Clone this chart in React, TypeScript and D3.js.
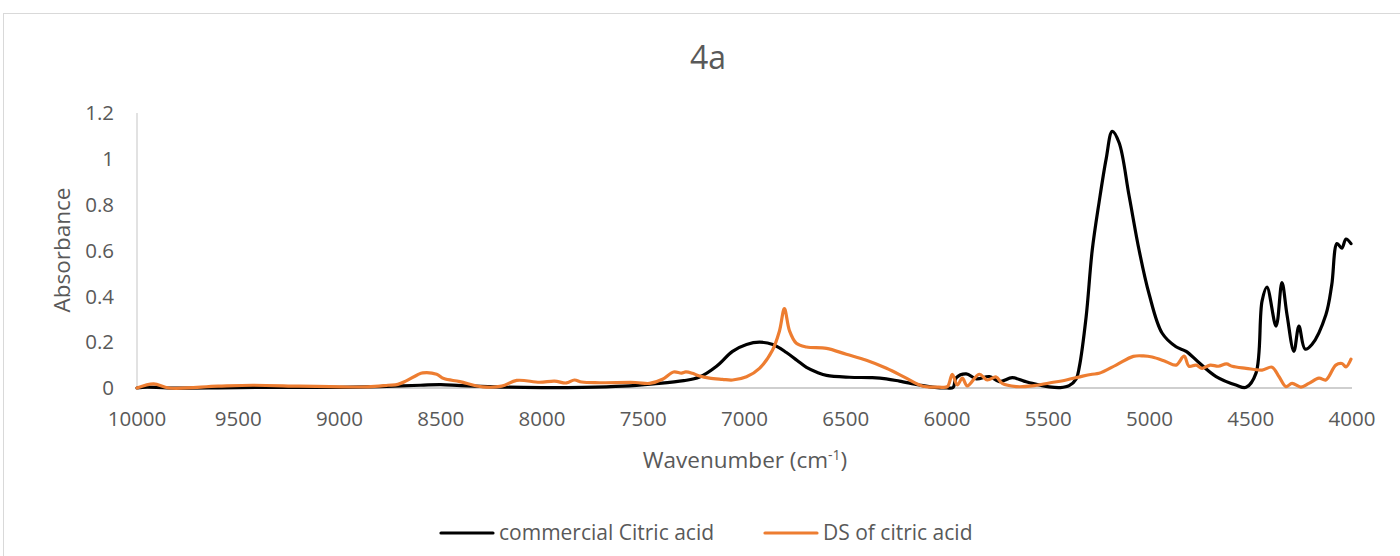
import React from "react";
import * as d3 from "d3";

// Wavenumber (cm-1) / absorbance pairs for each spectrum
const commercialWavenumber = [
  10000, 9950, 9850, 9500, 9000, 8800, 8600, 8500, 8400, 8200, 8000, 7800, 7600, 7450, 7300,
  7222, 7138, 7059, 6990, 6926, 6860, 6793, 6740, 6694, 6640, 6595, 6482, 6369, 6300, 6235,
  6137, 6073, 6000, 5970, 5954, 5905, 5855, 5791, 5742, 5678, 5620, 5579, 5495, 5440, 5397,
  5362, 5347, 5313, 5283, 5249, 5214, 5184, 5150, 5101, 5051, 5002, 4938, 4869, 4819, 4755,
  4671, 4573, 4523, 4474, 4444, 4420, 4375, 4346, 4321, 4287, 4262, 4232, 4198, 4129, 4100,
  4074, 4050, 4030, 4005,
];
const commercialAbsorbance = [
  0, 0.004, 0, 0.002, 0.003, 0.006, 0.012, 0.015, 0.01, 0.004, 0.002, 0.003, 0.008, 0.018, 0.032,
  0.048, 0.095, 0.16, 0.19, 0.2, 0.19, 0.155, 0.12, 0.09, 0.068, 0.055, 0.047, 0.045, 0.04, 0.03,
  0.013, 0.004, 0, 0.002, 0.045, 0.062, 0.04, 0.05, 0.028, 0.045, 0.03, 0.02, 0.005, 0.002, 0.01,
  0.04, 0.09, 0.31, 0.6, 0.81, 1.0, 1.12, 1.07, 0.84, 0.6, 0.41, 0.24, 0.18, 0.16, 0.11,
  0.05, 0.013, 0.003, 0.065, 0.38, 0.44, 0.27, 0.46, 0.32, 0.16, 0.27, 0.17, 0.19, 0.32, 0.45,
  0.63, 0.61, 0.65, 0.63,
];

const dsWavenumber = [
  10000, 9918, 9842, 9600, 9428, 9200, 9048, 8860, 8760, 8712, 8673, 8614, 8589, 8520, 8485,
  8406, 8293, 8199, 8125, 8012, 7938, 7880, 7840, 7804, 7716, 7538, 7469, 7405, 7350, 7311,
  7290, 7257, 7222, 7173, 7109, 7059, 6990, 6926, 6862, 6827, 6803, 6778, 6744, 6694, 6595,
  6497, 6398, 6299, 6201, 6122, 6040, 5998, 5974, 5949, 5924, 5900, 5841, 5801, 5757, 5727,
  5658, 5579, 5495, 5411, 5330, 5283, 5249, 5165, 5080, 5030, 4987, 4918, 4869, 4829, 4805,
  4770, 4740, 4700, 4660, 4620, 4592, 4523, 4444, 4395, 4360, 4326, 4296, 4252, 4213, 4163, 4129,
  4080, 4050, 4030, 4005,
];
const dsAbsorbance = [
  0, 0.018, 0, 0.008, 0.012, 0.008, 0.006, 0.005, 0.012, 0.016, 0.03, 0.058, 0.066, 0.06, 0.041,
  0.028, 0.005, 0.008, 0.033, 0.025, 0.03, 0.022, 0.035, 0.026, 0.023, 0.024, 0.02, 0.038, 0.07, 0.065,
  0.07, 0.064, 0.052, 0.043, 0.038, 0.035, 0.049, 0.086, 0.165, 0.25, 0.346, 0.25, 0.195, 0.179, 0.173,
  0.147, 0.121, 0.086, 0.043, 0.009, 0.004, 0.006, 0.06, 0.013, 0.043, 0.009, 0.06, 0.035, 0.048, 0.02,
  0.006, 0.009, 0.022, 0.035, 0.052, 0.06, 0.064, 0.1, 0.138, 0.14, 0.135, 0.115, 0.1, 0.139, 0.095,
  0.1, 0.086, 0.1, 0.095, 0.105, 0.095, 0.086, 0.078, 0.091, 0.049, 0.006, 0.02, 0.004, 0.02, 0.043, 0.035,
  0.1, 0.107, 0.092, 0.126,
];

const xTicks = [10000, 9500, 9000, 8500, 8000, 7500, 7000, 6500, 6000, 5500, 5000, 4500, 4000];
const yTicks = [0, 0.2, 0.4, 0.6, 0.8, 1, 1.2];

const seriesNames = ["commercial Citric acid", "DS of citric acid"];
const seriesColors = ["#000000", "#ED7D31"];

const W = 1400;
const H = 556;
const FONT = "'Open Sans', 'Liberation Sans', sans-serif";
const TEXT = "#595959";

export default function App() {
  const x = d3.scaleLinear().domain([10000, 4000]).range([137, 1352]);
  const y = d3.scaleLinear().domain([0, 1.2]).range([388, 113]);

  const line = d3
    .line<[number, number]>()
    .x((d) => x(d[0]))
    .y((d) => y(d[1]))
    .curve(d3.curveCatmullRom.alpha(0.5));

  const series = [
    d3.zip(commercialWavenumber, commercialAbsorbance) as [number, number][],
    d3.zip(dsWavenumber, dsAbsorbance) as [number, number][],
  ];

  const legendItems = [
    { lineX: 441, textX: 499 },
    { lineX: 765, textX: 823 },
  ];

  return (
    <div style={{ position: "absolute", left: 0, top: 0 }}>
      <svg width={W} height={H} style={{ display: "block", background: "#fff" }}>
        <rect x={3.5} y={13.5} width={W} height={H} fill="#fff" stroke="#D9D9D9" strokeWidth={1} />

        <text x={708} y={69} textAnchor="middle" fontFamily={FONT} fontSize={32} fill={TEXT}>
          4a
        </text>

        {/* axes */}
        <line x1={x(10000)} x2={x(10000)} y1={y(1.2)} y2={y(0)} stroke="#D9D9D9" strokeWidth={1.5} />
        <line x1={x(10000)} x2={x(4000)} y1={y(0)} y2={y(0)} stroke="#BFBFBF" strokeWidth={1.5} />

        {yTicks.map((t) => (
          <text
            key={t}
            x={114}
            y={y(t)}
            dy="0.35em"
            textAnchor="end"
            fontFamily={FONT}
            fontSize={20.5}
            fill={TEXT}
          >
            {d3.format("~g")(t)}
          </text>
        ))}

        {xTicks.map((t) => (
          <text
            key={t}
            x={x(t)}
            y={426}
            textAnchor="middle"
            fontFamily={FONT}
            fontSize={20.5}
            fill={TEXT}
          >
            {t}
          </text>
        ))}

        <text
          transform={`translate(70, 250) rotate(-90)`}
          textAnchor="middle"
          fontFamily={FONT}
          fontSize={22.5}
          fill={TEXT}
        >
          Absorbance
        </text>

        <text x={745} y={468} textAnchor="middle" fontFamily={FONT} fontSize={22.5} fill={TEXT}>
          Wavenumber (cm
          <tspan fontSize={14} dy={-8}>-1</tspan>
          <tspan dy={8}>)</tspan>
        </text>

        {series.map((pts, i) => (
          <path
            key={i}
            d={line(pts) ?? ""}
            fill="none"
            stroke={seriesColors[i]}
            strokeWidth={3.2}
            strokeLinejoin="round"
            strokeLinecap="round"
          />
        ))}

        {legendItems.map((it, i) => (
          <g key={i}>
            <line
              x1={it.lineX}
              x2={it.lineX + 52}
              y1={533}
              y2={533}
              stroke={seriesColors[i]}
              strokeWidth={3.2}
              strokeLinecap="round"
            />
            <text x={it.textX} y={533} dy="0.35em" fontFamily={FONT} fontSize={21} fill={TEXT}>
              {seriesNames[i]}
            </text>
          </g>
        ))}
      </svg>
    </div>
  );
}
